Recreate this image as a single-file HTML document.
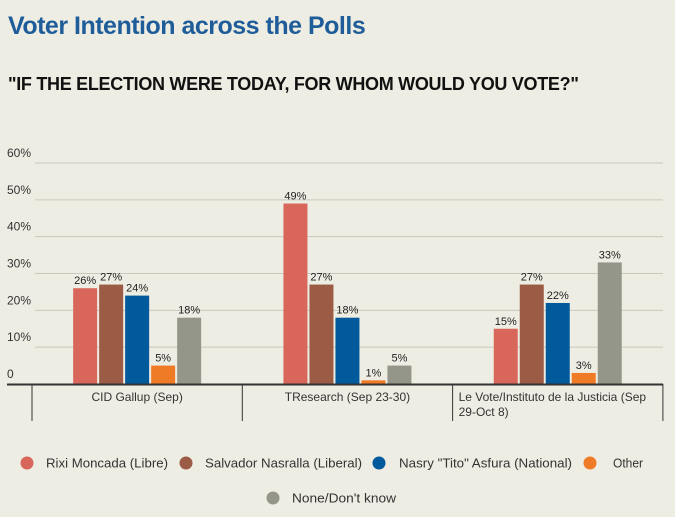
<!DOCTYPE html>
<html><head><meta charset="utf-8"><style>
body{margin:0;background:#EEEDE3;font-family:"Liberation Sans",sans-serif;}
#wrap{position:relative;width:675px;height:517px;overflow:hidden;background:#EEEDE3;}
h1{position:absolute;left:8px;top:12px;margin:0;font-size:25px;color:#1E5D9A;font-weight:bold;letter-spacing:-0.5px;}
h2{position:absolute;left:8px;top:74px;margin:0;font-size:18px;color:#111;font-weight:bold;letter-spacing:-0.3px;}
</style></head><body>
<div id="wrap">
<h1>Voter Intention across the Polls</h1>
<h2>"IF THE ELECTION WERE TODAY, FOR WHOM WOULD YOU VOTE?"</h2>
<svg id="plot" width="675" height="517" style="position:absolute;left:0;top:0">
<g font-size="13" fill="#333">
<g><circle cx="27" cy="463" r="6.5" fill="#D9665B"/><text x="46" y="467.5" textLength="122" lengthAdjust="spacingAndGlyphs">Rixi Moncada (Libre)</text></g>
<g><circle cx="186" cy="463" r="6.5" fill="#9B5B45"/><text x="205" y="467.5" textLength="157" lengthAdjust="spacingAndGlyphs">Salvador Nasralla (Liberal)</text></g>
<g><circle cx="379" cy="463" r="6.5" fill="#005A9C"/><text x="399" y="467.5" textLength="173" lengthAdjust="spacingAndGlyphs">Nasry "Tito" Asfura (National)</text></g>
<g><circle cx="590" cy="463" r="6.5" fill="#F07B26"/><text x="613" y="467.5" textLength="30" lengthAdjust="spacingAndGlyphs">Other</text></g>
<g><circle cx="273" cy="498" r="6.5" fill="#94968A"/><text x="292" y="502.5" textLength="104" lengthAdjust="spacingAndGlyphs">None/Don't know</text></g>
</g>
</svg>
</div>
<script>
const categories=["CID Gallup (Sep)","TResearch (Sep 23-30)","Le Vote/Instituto de la Justicia (Sep|29-Oct 8)"];
const moncada=[26,49,15];
const nasralla=[27,27,27];
const asfura=[24,18,22];
const other=[5,1,3];
const none=[18,5,33];
const ticks=[0,10,20,30,40,50,60];
const seriesNames=["moncada","nasralla","asfura","other","none"];
const series=[moncada,nasralla,asfura,other,none];
const colors=["#D9665B","#9B5B45","#005A9C","#F07B26","#94968A"];
const svg=document.getElementById('plot');
const NS="http://www.w3.org/2000/svg";
const y0=384,pxPer=221/60;
function y(v){return y0-v*pxPer;}
const left=32,gw=210.3;
function gx(i){return left+i*gw;}
function mk(t,a){const e=document.createElementNS(NS,t);for(const k in a)e.setAttribute(k,a[k]);svg.appendChild(e);return e;}
ticks.forEach(t=>{
 if(t>0){const l=mk('line',{x1:35,x2:663,y1:y(t),y2:y(t),stroke:'#C9C8BC','stroke-width':1});
 
 }
 const tx=mk('text',{x:7,y:y(t)-6,'font-size':12,fill:'#333'});
 tx.textContent=t===0?'0':t+'%';
 
 
});
categories.forEach((c,i)=>{
 const cx=gx(i)+gw/2;
 const start=cx-64;
 series.forEach((s,j)=>{
  const v=s[i];const bx=start+j*26;
  const r=mk('rect',{x:bx,y:y(v),width:24,height:y0-y(v),fill:colors[j]});
  
  
  const t=mk('text',{x:bx+12,y:y(v)-4,'font-size':11,fill:'#222','text-anchor':'middle'});
  t.textContent=v+'%';
  
  
 });
 const lines=c.split('|');
 lines.forEach((ln,k)=>{
  const multi=lines.length>1;
  const t=mk('text',{x:multi?gx(i)+6:cx,y:401+k*15,'font-size':12,fill:'#333','text-anchor':multi?'start':'middle'});
  t.textContent=ln;
  
  
 });
});
for(let i=0;i<=3;i++){const d=mk('line',{x1:gx(i),x2:gx(i),y1:y0,y2:421,stroke:'#333','stroke-width':1});
 
 }
const ax=mk('line',{x1:7,x2:663,y1:y0+0.5,y2:y0+0.5,stroke:'#333','stroke-width':2});


</script>
</body></html>
